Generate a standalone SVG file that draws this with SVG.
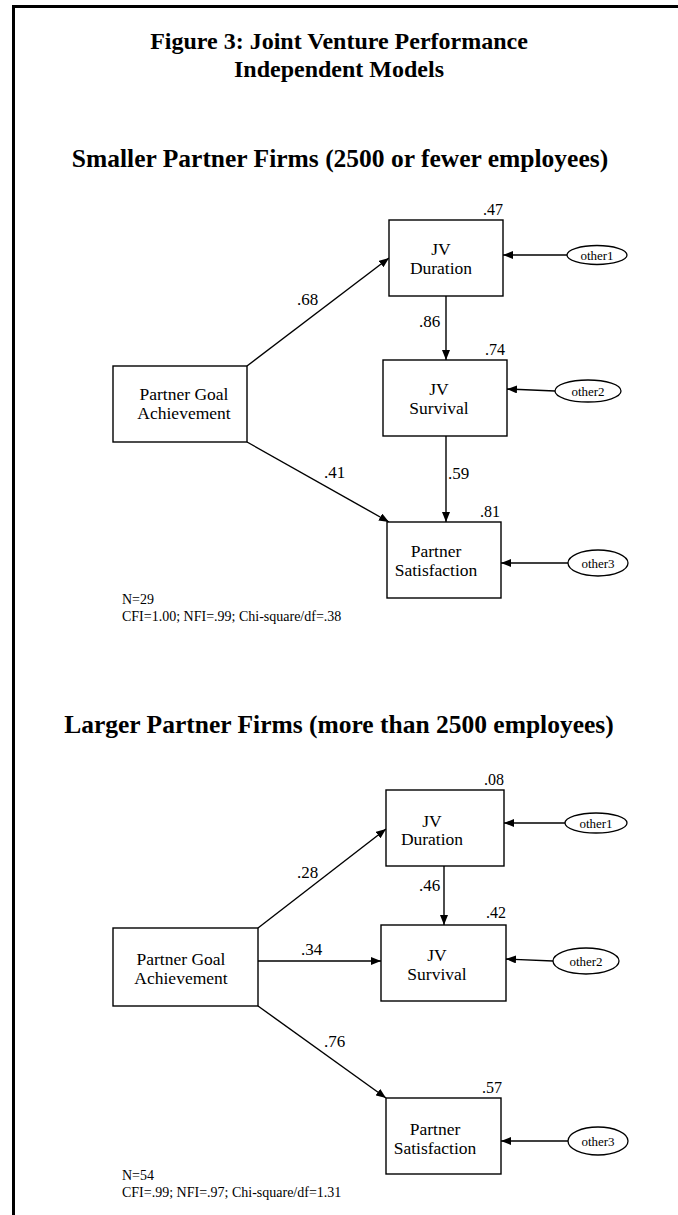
<svg xmlns="http://www.w3.org/2000/svg" width="678" height="1215" viewBox="0 0 678 1215">
<style>
.t{font-family:"Liberation Serif","Times New Roman",serif;fill:#000}
.title{font-size:24px;font-weight:bold;text-anchor:middle}
.head{font-size:25.5px;font-weight:bold;text-anchor:middle}
.node{font-size:17.5px;text-anchor:middle}
.coef{font-size:17px}
.r2{font-size:16px;text-anchor:end}
.err{font-size:13px;text-anchor:middle}
.fit{font-size:14px}
.box{fill:#fff;stroke:#000;stroke-width:1.4}
.ell{fill:#fff;stroke:#000;stroke-width:1.3}
.edge{stroke:#000;stroke-width:1.4;fill:none;marker-end:url(#ah)}
</style>
<defs>
<marker id="ah" viewBox="0 0 10 8" refX="10" refY="4" markerWidth="10" markerHeight="8" markerUnits="userSpaceOnUse" orient="auto">
<path d="M0,0 L10,4 L0,8 Z" fill="#000"/>
</marker>
</defs>
<rect width="678" height="1215" fill="#fff"/>
<g id="frame">
<line x1="13.5" y1="6.5" x2="678" y2="6.5" stroke="#000" stroke-width="3"/>
<line x1="13.5" y1="5" x2="13.5" y2="1215" stroke="#000" stroke-width="3"/>
</g>
<g id="titles">
<text class="t title" x="339" y="49">Figure 3: Joint Venture Performance</text>
<text class="t title" x="339" y="77">Independent Models</text>
<text class="t head" x="340" y="167">Smaller Partner Firms (2500 or fewer employees)</text>
<text class="t head" x="339" y="733">Larger Partner Firms (more than 2500 employees)</text>
</g>
<g id="connectors">
<line class="edge" x1="247" y1="366" x2="389" y2="258"/>
<line class="edge" x1="446" y1="296" x2="446" y2="360"/>
<line class="edge" x1="247" y1="442" x2="389" y2="522"/>
<line class="edge" x1="446" y1="436" x2="446" y2="522"/>
<line class="edge" x1="567" y1="255" x2="503" y2="255"/>
<line class="edge" x1="555" y1="391" x2="507" y2="389"/>
<line class="edge" x1="568" y1="563" x2="501" y2="563"/>
<line class="edge" x1="258" y1="928" x2="386" y2="829"/>
<line class="edge" x1="444" y1="866" x2="444" y2="925"/>
<line class="edge" x1="258" y1="961" x2="381" y2="961"/>
<line class="edge" x1="258" y1="1006" x2="386" y2="1098"/>
<line class="edge" x1="565" y1="823" x2="504" y2="823"/>
<line class="edge" x1="553" y1="961" x2="506" y2="959"/>
<line class="edge" x1="568" y1="1141" x2="501" y2="1141"/>
</g>
<g id="labels">
<text class="t coef" x="297" y="305">.68</text>
<text class="t coef" x="419" y="327">.86</text>
<text class="t coef" x="324" y="478">.41</text>
<text class="t coef" x="448" y="479">.59</text>
<text class="t coef" x="297" y="878">.28</text>
<text class="t coef" x="419" y="891">.46</text>
<text class="t coef" x="301" y="955">.34</text>
<text class="t coef" x="324" y="1047">.76</text>
</g>
<g id="duration1">
<rect class="box" x="389" y="220" width="114" height="76"/>
<text class="t r2" x="503" y="215">.47</text>
<text class="t node" x="441" y="255">JV</text>
<text class="t node" x="441" y="274">Duration</text>
</g>
<g id="survival1">
<rect class="box" x="383" y="360" width="124" height="76"/>
<text class="t r2" x="505" y="355">.74</text>
<text class="t node" x="439" y="395">JV</text>
<text class="t node" x="439" y="414">Survival</text>
</g>
<g id="goal1">
<rect class="box" x="113" y="366" width="134" height="76"/>
<text class="t node" x="184" y="400">Partner Goal</text>
<text class="t node" x="184" y="419">Achievement</text>
</g>
<g id="satisfaction1">
<rect class="box" x="387" y="522" width="114" height="76"/>
<text class="t r2" x="500" y="517">.81</text>
<text class="t node" x="436" y="557">Partner</text>
<text class="t node" x="436" y="576">Satisfaction</text>
</g>
<g id="other1a">
<ellipse class="ell" cx="597" cy="255" rx="30" ry="9.5"/>
<text class="t err" x="597" y="259.5">other1</text>
</g>
<g id="other2a">
<ellipse class="ell" cx="588" cy="391" rx="33" ry="11"/>
<text class="t err" x="588" y="395.5">other2</text>
</g>
<g id="other3a">
<ellipse class="ell" cx="598" cy="563" rx="30" ry="13"/>
<text class="t err" x="598" y="567.5">other3</text>
</g>
<g id="fit1">
<text class="t fit" x="122" y="604">N=29</text>
<text class="t fit" x="122" y="621">CFI=1.00; NFI=.99; Chi-square/df=.38</text>
</g>
<g id="duration2">
<rect class="box" x="386" y="790" width="118" height="76"/>
<text class="t r2" x="504" y="785">.08</text>
<text class="t node" x="432" y="827">JV</text>
<text class="t node" x="432" y="845">Duration</text>
</g>
<g id="survival2">
<rect class="box" x="381" y="925" width="125" height="76"/>
<text class="t r2" x="506" y="918">.42</text>
<text class="t node" x="437" y="961">JV</text>
<text class="t node" x="437" y="980">Survival</text>
</g>
<g id="goal2">
<rect class="box" x="113" y="928" width="145" height="78"/>
<text class="t node" x="181" y="965">Partner Goal</text>
<text class="t node" x="181" y="984">Achievement</text>
</g>
<g id="satisfaction2">
<rect class="box" x="386" y="1098" width="115" height="76"/>
<text class="t r2" x="502" y="1093">.57</text>
<text class="t node" x="435" y="1135">Partner</text>
<text class="t node" x="435" y="1154">Satisfaction</text>
</g>
<g id="other1b">
<ellipse class="ell" cx="596" cy="823" rx="31" ry="10"/>
<text class="t err" x="596" y="827.5">other1</text>
</g>
<g id="other2b">
<ellipse class="ell" cx="586" cy="961" rx="33" ry="13"/>
<text class="t err" x="586" y="965.5">other2</text>
</g>
<g id="other3b">
<ellipse class="ell" cx="598" cy="1141" rx="30" ry="14"/>
<text class="t err" x="598" y="1145.5">other3</text>
</g>
<g id="fit2">
<text class="t fit" x="122" y="1180">N=54</text>
<text class="t fit" x="122" y="1197">CFI=.99; NFI=.97; Chi-square/df=1.31</text>
</g>
</svg>
